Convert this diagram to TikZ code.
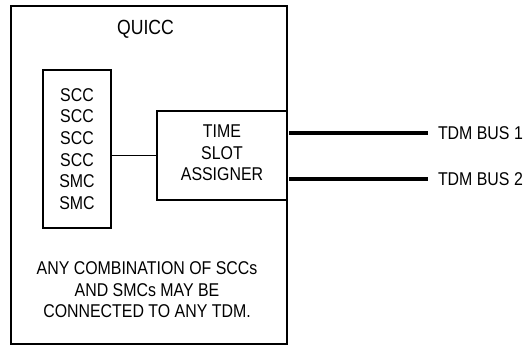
\documentclass[tikz,border=0pt]{standalone}
\usepackage{fontspec}
\setmainfont{Liberation Sans}[FakeStretch=0.86]
\begin{document}
\begin{tikzpicture}[x=1pt,y=-1pt,
  box/.style={draw,line width=1.3pt,inner sep=0pt,outer sep=0pt,anchor=north west},
  lbl/.style={inner sep=0pt,outer sep=0pt,align=center,font=\fontsize{18.5}{21.6}\selectfont},
  bus/.style={line width=4pt}]
\useasboundingbox (0,0) rectangle (523,345);
\node[box,minimum width=276pt,minimum height=338pt] (outer) at (11,6) {};
\node[box,minimum width=68pt,minimum height=158pt] (scc) at (43,70) {};
\node[box,minimum width=130pt,minimum height=89pt] (tsa) at (157,111) {};
\node[lbl,font=\fontsize{20.5}{24}\selectfont] (title) at (145.5,29) {QUICC};
\node[lbl] (scctext) at (77,149) {SCC\\SCC\\SCC\\SCC\\SMC\\SMC};
\node[lbl] (tsatext) at (222,153) {TIME\\SLOT\\ASSIGNER};
\node[lbl] (note) at (147,290) {ANY COMBINATION OF SCCs\\AND SMCs MAY BE\\CONNECTED TO ANY TDM.};
\draw[line width=1.3pt] (scc.east |- tsa.west) -- (tsa.west);
\coordinate (b1s) at (289,133);
\coordinate (b1e) at (428,133);
\coordinate (b2s) at (289,179);
\coordinate (b2e) at (428,179);
\node[lbl,anchor=west] (bus1) at (438,133) {TDM BUS 1};
\node[lbl,anchor=west] (bus2) at (438,179) {TDM BUS 2};
\draw[bus] (b1s) -- (b1e);
\draw[bus] (b2s) -- (b2e);
\end{tikzpicture}
\end{document}
